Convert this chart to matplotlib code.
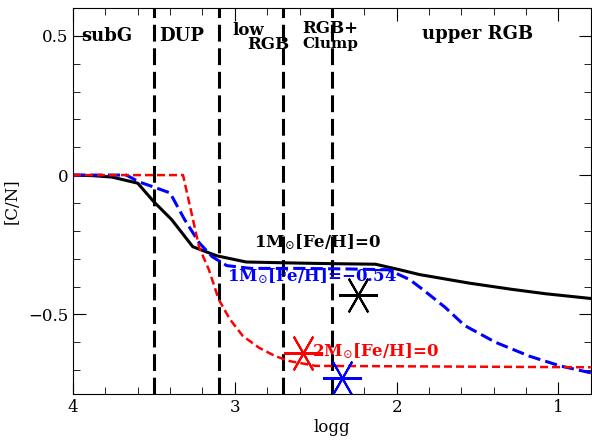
import numpy as np
import matplotlib
matplotlib.use("Agg")
from matplotlib import pyplot as plt
from matplotlib.ticker import MultipleLocator, FuncFormatter

plt.rcParams['font.family'] = ['DejaVu Serif']
plt.rcParams['mathtext.fontset'] = 'dejavuserif'

# [C/N] vs logg tracks
black_logg = [4.0, 3.88, 3.76, 3.6, 3.5, 3.39, 3.26, 3.22, 3.11, 2.93, 2.6, 2.4, 2.13, 1.98, 1.86, 1.68, 1.55, 1.29, 1.08, 0.8]
black_cn = [0.0, -0.002, -0.007, -0.029, -0.096, -0.16, -0.257, -0.266, -0.29, -0.312, -0.316, -0.318, -0.32, -0.34, -0.357, -0.375, -0.388, -0.41, -0.426, -0.443]

blue_logg = [4.0, 3.67, 3.59, 3.5, 3.4, 3.31, 3.22, 3.14, 3.05, 2.9, 2.6, 2.3, 2.05, 1.92, 1.84, 1.7, 1.58, 1.39, 1.18, 0.99, 0.8]
blue_cn = [0.0, 0.0, -0.025, -0.043, -0.064, -0.16, -0.243, -0.293, -0.325, -0.335, -0.335, -0.337, -0.34, -0.375, -0.41, -0.475, -0.54, -0.6, -0.65, -0.685, -0.71]

red_logg = [4.0, 3.32, 3.22, 3.16, 3.1, 3.03, 2.95, 2.85, 2.75, 2.66, 2.5, 0.8]
red_cn = [0.0, 0.0, -0.26, -0.34, -0.446, -0.518, -0.578, -0.62, -0.65, -0.668, -0.685, -0.69]

# observed points
star_logg = [2.24, 2.58, 2.34]
star_cn = [-0.432, -0.64, -0.73]
star_colors = ["black", "red", "blue"]

# evolutionary phase boundaries
bounds = [3.5, 3.1, 2.7, 2.4]

fig = plt.figure(figsize=(5.92, 4.44), dpi=100)
ax = fig.add_axes([0.1233, 0.1126, 0.8747, 0.8694])

for b in bounds:
    ax.axvline(b, color="black", lw=2.2, linestyle=(0, (5.5, 2.2)))

ax.plot(black_logg, black_cn, color="black", lw=2.2)
ax.plot(blue_logg, blue_cn, color="blue", lw=2.2, linestyle=(0, (4, 1.7)))
ax.plot(red_logg, red_cn, color="red", lw=1.8, linestyle=(0, (3.2, 1.6)))

for x, y, c in zip(star_logg, star_cn, star_colors):
    ax.plot(x, y, marker=(6, 2, 30), markersize=28, markeredgewidth=1.5, color=c, linestyle="none")

# curve labels
ax.text(2.49, -0.24, "1M$_{\\odot}$[Fe/H]=0", color="black", fontsize=12, fontweight="bold", ha="center", va="center")
ax.text(3.05, -0.364, "1M$_{\\odot}$[Fe/H]=\u22120.54", color="blue", fontsize=12, fontweight="bold", ha="left", va="center")
ax.text(2.52, -0.632, "2M$_{\\odot}$[Fe/H]=0", color="red", fontsize=12, fontweight="bold", ha="left", va="center")

# phase labels
ax.text(3.79, 0.5, "subG", fontsize=13, fontweight="bold", ha="center", va="center")
ax.text(3.33, 0.5, "DUP", fontsize=13, fontweight="bold", ha="center", va="center")
ax.text(2.92, 0.52, "low", fontsize=12, fontweight="bold", ha="center", va="center")
ax.text(2.79, 0.47, "RGB", fontsize=12, fontweight="bold", ha="center", va="center")
ax.text(2.41, 0.525, "RGB+", fontsize=12, fontweight="bold", ha="center", va="center")
ax.text(2.41, 0.47, "Clump", fontsize=11, fontweight="bold", ha="center", va="center")
ax.text(1.50, 0.507, "upper RGB", fontsize=13, fontweight="bold", ha="center", va="center")

ax.set_xlim(4, 0.8)
ax.set_ylim(-0.786, 0.6)
ax.xaxis.set_major_locator(MultipleLocator(1))
ax.xaxis.set_minor_locator(MultipleLocator(0.2))
ax.yaxis.set_major_locator(MultipleLocator(0.5))
ax.yaxis.set_minor_locator(MultipleLocator(0.1))
ax.yaxis.set_major_formatter(FuncFormatter(lambda v, p: ("%g" % round(v, 2)).replace("-", "\u2212")))
ax.tick_params(which="both", direction="in", top=True, right=True, labelsize=12)
ax.tick_params(which="major", length=9)
ax.tick_params(which="minor", length=5)
ax.set_xlabel("logg", fontsize=12, labelpad=2)
ax.set_ylabel("[C/N]", fontsize=12)
ax.yaxis.set_label_coords(-0.102, 0.5)

fig.savefig("out.png", dpi=100)
